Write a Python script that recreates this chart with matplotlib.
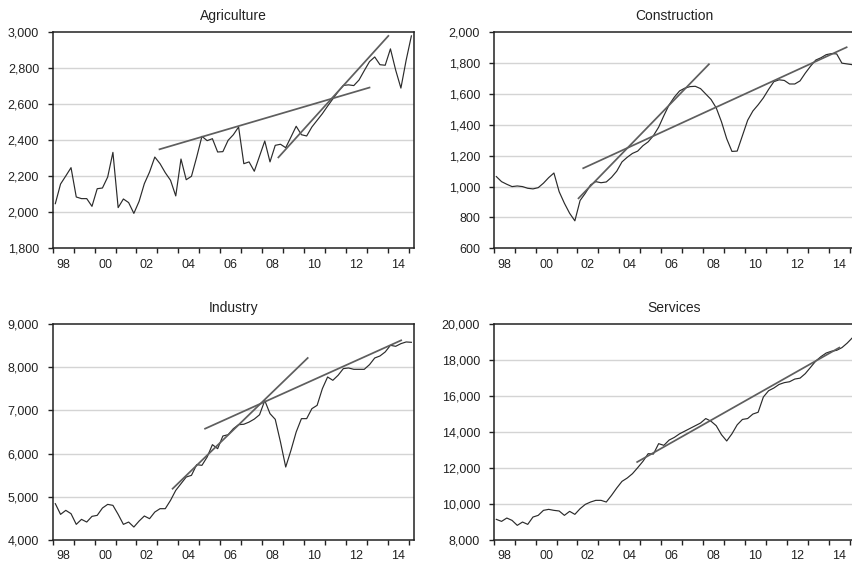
import matplotlib
matplotlib.use("Agg")
import matplotlib.pyplot as plt
from matplotlib.ticker import FuncFormatter, FixedLocator

plt.rcParams['font.family'] = ['Liberation Sans', 'DejaVu Sans']

# Quarterly observations 1998Q1 .. 2015Q1
quarters = [f"{1998 + k // 4}Q{k % 4 + 1}" for k in range(69)]

agriculture = [2048, 2157, 2202, 2248, 2085, 2076, 2076, 2033, 2131, 2135,
               2196, 2333, 2026, 2074, 2054, 1994, 2061, 2159, 2224, 2307,
               2270, 2220, 2178, 2091, 2296, 2181, 2200, 2307, 2422, 2398,
               2409, 2335, 2337, 2400, 2431, 2474, 2270, 2280, 2228, 2312,
               2396, 2280, 2372, 2378, 2359, 2418, 2478, 2431, 2424, 2474,
               2511, 2548, 2590, 2630, 2670, 2705, 2708, 2704, 2735, 2787,
               2837, 2863, 2820, 2817, 2908, 2790, 2690, 2845, 2980]

construction = [1065, 1032, 1015, 1000, 1004, 1000, 989, 985, 993, 1022,
                1058, 1088, 967, 892, 827, 778, 910, 957, 1011, 1032,
                1025, 1030, 1060, 1100, 1160, 1190, 1215, 1230, 1265, 1290,
                1330, 1385, 1460, 1530, 1580, 1620, 1638, 1648, 1650, 1635,
                1600, 1565, 1510, 1420, 1310, 1228, 1230, 1330, 1430, 1490,
                1530, 1575, 1630, 1680, 1692, 1688, 1665, 1665, 1685, 1735,
                1780, 1820, 1835, 1855, 1862, 1860, 1800, 1795, 1790]

industry = [4836, 4588, 4681, 4604, 4356, 4472, 4410, 4542, 4565, 4735,
            4820, 4797, 4588, 4356, 4410, 4294, 4433, 4550, 4488, 4642,
            4720, 4720, 4913, 5145, 5300, 5455, 5494, 5742, 5726, 5920,
            6206, 6113, 6407, 6438, 6577, 6670, 6680, 6730, 6800, 6900,
            7230, 6926, 6794, 6268, 5687, 6074, 6500, 6810, 6810, 7042,
            7119, 7506, 7777, 7700, 7816, 7971, 7986, 7955, 7955, 7955,
            8063, 8218, 8265, 8358, 8512, 8489, 8551, 8590, 8582]

services = [9133, 9021, 9207, 9077, 8799, 8984, 8854, 9263, 9356, 9635,
            9690, 9635, 9600, 9356, 9579, 9412, 9728, 9969, 10099, 10192,
            10192, 10099, 10470, 10879, 11250, 11436, 11678, 12012, 12365, 12793,
            12770, 13350, 13257, 13550, 13700, 13900, 14050, 14200, 14350, 14500,
            14750, 14600, 14350, 13850, 13500, 13900, 14400, 14700, 14750, 15000,
            15100, 15950, 16300, 16450, 16650, 16750, 16800, 16950, 17000, 17250,
            17600, 17950, 18200, 18400, 18500, 18550, 18700, 18950, 19250]

# Trend lines: (start obs index, start value, end obs index, end value)
agri_trends = [(19.9, 2350, 60.0, 2693), (42.6, 2305, 63.6, 2980)]
cons_trends = [(15.7, 924, 40.6, 1793), (16.6, 1119, 66.9, 1903)]
ind_trends = [(22.4, 5184, 48.2, 8218), (28.6, 6577, 66.05, 8628)]
serv_trends = [(26.9, 12328, 65.5, 18700)]

titles = ["Agriculture", "Construction", "Industry", "Services"]
ylims = [(1800, 3000, 200), (600, 2000, 200), (4000, 9000, 1000), (8000, 20000, 2000)]
year_labels = ["98", "00", "02", "04", "06", "08", "10", "12", "14"]

W, H = 852, 564
fig = plt.figure(figsize=(W / 100, H / 100), dpi=100)

# axes boxes in pixels: left, top, right, bottom
boxes = [(52.7, 32.3, 414.0, 248.3),
         (493.7, 32.3, 855.0, 248.3),
         (52.7, 324.3, 414.0, 539.7),
         (493.7, 324.3, 855.0, 539.7)]

series = [agriculture, construction, industry, services]
trends = [agri_trends, cons_trends, ind_trends, serv_trends]

for s, tr, title, (lo, hi, step), (l, t, r, b) in zip(series, trends, titles, ylims, boxes):
    ax = fig.add_axes([l / W, 1 - b / H, (r - l) / W, (b - t) / H])
    x = list(range(len(s)))
    ax.plot(x, s, color="#2b2b2b", lw=0.85, zorder=3)
    for (x0, y0, x1, y1) in tr:
        ax.plot([x0, x1], [y0, y1], color="#5e5e5e", lw=1.25, zorder=4)
    ax.set_xlim(-0.5, 68.5)
    ax.set_ylim(lo, hi)
    yt = list(range(lo, hi + 1, step))
    ax.set_yticks(yt)
    ax.yaxis.set_major_formatter(FuncFormatter(lambda v, p: f"{int(v):,}"))
    for v in yt[1:-1]:
        ax.axhline(v, color="#d4d4d4", lw=1.0, zorder=1)
    # year boundary ticks
    ax.xaxis.set_major_locator(FixedLocator([-0.5 + 4 * k for k in range(18)]))
    ax.xaxis.set_major_formatter(FuncFormatter(lambda v, p: ""))
    # labels at mid-year, every other year
    ax.xaxis.set_minor_locator(FixedLocator([1.5 + 8 * k for k in range(9)]))
    ax.set_xticklabels(year_labels, minor=True)
    ax.tick_params(axis="x", which="major", direction="out", length=3.8, width=1, color="#222")
    ax.tick_params(axis="x", which="minor", length=0, pad=7.5, labelsize=9, labelcolor="#222")
    ax.tick_params(axis="y", direction="out", length=3.8, width=1, pad=6, labelsize=9,
                   color="#222", labelcolor="#222")
    for sp in ax.spines.values():
        sp.set_color("#222")
        sp.set_linewidth(1.1)
    ax.set_title(title, fontsize=10, color="#222", pad=9)

fig.savefig("out.png", dpi=100)
